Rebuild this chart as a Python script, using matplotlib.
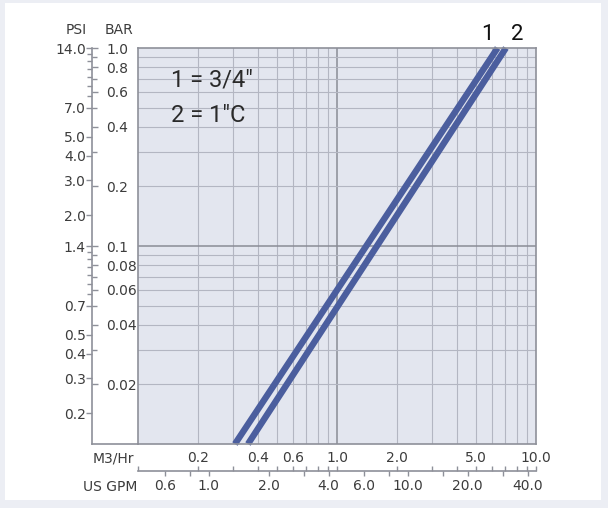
import numpy as np
import matplotlib
matplotlib.use("Agg")
import matplotlib.pyplot as plt
from matplotlib.lines import Line2D
from matplotlib.patches import Rectangle

# ---- data ----
m3hr_limits = [0.1, 10.0]
bar_limits = [0.01, 1.0]
line1_flow = [0.307, 6.41]
line1_bar = [0.01, 1.0]
line2_flow = [0.357, 7.06]
line2_bar = [0.01, 1.0]
bar_ticks = [1.0, 0.8, 0.6, 0.4, 0.2, 0.1, 0.08, 0.06, 0.04, 0.02]
bar_labels = ["1.0", "0.8", "0.6", "0.4", "0.2", "0.1", "0.08", "0.06", "0.04", "0.02"]
bar_minor = [0.9, 0.7, 0.5, 0.3, 0.09, 0.07, 0.05, 0.03]
psi_ticks = [14.0, 7.0, 5.0, 4.0, 3.0, 2.0, 1.4, 0.7, 0.5, 0.4, 0.3, 0.2]
psi_labels = ["14.0", "7.0", "5.0", "4.0", "3.0", "2.0", "1.4", "0.7", "0.5", "0.4", "0.3", "0.2"]
psi_minor = [13, 12, 11, 10, 9, 8, 1.3, 1.2, 1.1, 1.0, 0.9, 0.8]
PSI_PER_BAR = 14.0
m3_ticks = [0.2, 0.4, 0.6, 1.0, 2.0, 5.0, 10.0]
m3_labels = ["0.2", "0.4", "0.6", "1.0", "2.0", "5.0", "10.0"]
m3_minor = [0.1, 0.3, 0.5, 0.7, 0.8, 0.9, 3.0, 4.0, 6.0, 7.0, 8.0, 9.0]
gpm_ticks = [0.6, 1.0, 2.0, 4.0, 6.0, 10.0, 20.0, 40.0]
gpm_labels = ["0.6", "1.0", "2.0", "4.0", "6.0", "10.0", "20.0", "40.0"]
gpm_minor = [0.8, 3.0, 8.0, 15.0, 30.0]
GPM_PER_M3 = 4.403
series_labels = ["1", "2"]
legend_lines = ["1 = 3/4\u2033", "2 = 1\u2033C"]

W, H = 608, 508
fig = plt.figure(figsize=(W / 100, H / 100), dpi=100, facecolor="#eceef4")
fig.add_artist(Rectangle((5 / W, 1 - 500 / H), 596 / W, 497 / H, transform=fig.transFigure,
                         facecolor="white", edgecolor="none", zorder=0))

def fx(px):
    return px / W

def fy(py):
    return 1 - py / H

L, R, T, B = 138, 536, 48, 444
ax = fig.add_axes([fx(L), fy(B), (R - L) / W, (B - T) / H])
ax.set_facecolor("#e3e6ef")
ax.set_xscale("log")
ax.set_yscale("log")
ax.set_xlim(m3hr_limits)
ax.set_ylim(bar_limits)
ax.set_xticks([0.2, 0.3, 0.4, 0.5, 0.6, 0.7, 0.8, 0.9, 2, 3, 4, 5, 6, 7, 8, 9], minor=True)
ax.set_yticks([0.02, 0.03, 0.04, 0.05, 0.06, 0.07, 0.08, 0.09, 0.2, 0.3, 0.4, 0.5, 0.6, 0.7, 0.8, 0.9], minor=True)
ax.set_xticks([1.0])
ax.set_yticks([0.1])
ax.grid(True, which="minor", color="#b3b6c2", linewidth=0.8)
ax.grid(True, which="major", color="#8a8c96", linewidth=1.1)
ax.tick_params(which="both", length=0, labelbottom=False, labelleft=False)
for s in ax.spines.values():
    s.set_color("#8e9099")
    s.set_linewidth(1.2)
ax.set_axisbelow(True)

col = "#4b5e9e"
ax.plot(line1_flow, line1_bar, color=col, linewidth=4.6, solid_capstyle="butt", clip_on=False)
ax.plot(line2_flow, line2_bar, color=col, linewidth=4.6, solid_capstyle="butt", clip_on=False)

ax.text((487 - L) / (R - L), (B - 34) / (B - T), series_labels[0], transform=ax.transAxes,
        ha="center", va="center", fontsize=16, color="#111111", family=["Roboto", "DejaVu Sans"])
ax.text((517 - L) / (R - L), (B - 34) / (B - T), series_labels[1], transform=ax.transAxes,
        ha="center", va="center", fontsize=16, color="#111111", family=["Roboto", "DejaVu Sans"])
for i, t in enumerate(legend_lines):
    ax.text((171 - L) / (R - L), (B - (80 + 35 * i)) / (B - T), t, transform=ax.transAxes,
            ha="left", va="center", fontsize=17, color="#2a2a2a",
            family=["Roboto", "DejaVu Sans"])

# ---- left PSI / BAR axis ----
AX_X = 92
tick_col = "#8e9099"
lab_col = "#3c3c3c"
al = fig.add_axes([fx(AX_X), fy(B), 0.0001, (B - T) / H])
al.set_yscale("log")
al.set_ylim(bar_limits)
al.set_xticks([])
al.patch.set_visible(False)
ar = al.twinx()

for k in ["top", "bottom", "right"]:
    al.spines[k].set_visible(False)
al.spines["left"].set_color(tick_col)
al.spines["left"].set_linewidth(1.2)
al.yaxis.tick_left()
al.set_yticks([p / PSI_PER_BAR for p in psi_ticks])
al.set_yticklabels(psi_labels)
al.set_yticks([p / PSI_PER_BAR for p in psi_minor], minor=True)
al.yaxis.set_minor_formatter(plt.NullFormatter())
al.tick_params(axis="y", which="major", direction="out", length=4, width=1, color=tick_col,
               pad=0.5, labelsize=10, labelcolor=lab_col)
al.tick_params(axis="y", which="minor", direction="out", length=3.5, width=1, color=tick_col)

ar.set_yscale("log")
ar.set_ylim(bar_limits)
ar.patch.set_visible(False)
for k in ["top", "bottom", "left", "right"]:
    ar.spines[k].set_visible(False)
ar.yaxis.tick_right()
ar.set_yticks(bar_ticks)
ar.set_yticklabels(bar_labels)
ar.set_yticks(bar_minor, minor=True)
ar.yaxis.set_minor_formatter(plt.NullFormatter())
ar.tick_params(axis="y", which="major", direction="out", length=4, width=1, color=tick_col,
               pad=6, labelsize=10, labelcolor=lab_col)
ar.tick_params(axis="y", which="minor", direction="out", length=3.5, width=1, color=tick_col)

fig.text(fx(76), fy(30), "PSI", ha="center", va="center", fontsize=10, color=lab_col)
fig.text(fx(119), fy(30), "BAR", ha="center", va="center", fontsize=10, color=lab_col)
fig.add_artist(Line2D([fx(AX_X), fx(L)], [fy(B), fy(B)], transform=fig.transFigure,
                      color=tick_col, linewidth=1.2))

# ---- bottom M3/Hr / GPM axis ----
AY = 471
ab = fig.add_axes([fx(L), fy(AY), (R - L) / W, 0.0001])
ab.set_xscale("log")
ab.set_xlim(m3hr_limits)
ab.set_yticks([])
ab.patch.set_visible(False)
ag = ab.twiny()

for k in ["bottom", "left", "right"]:
    ab.spines[k].set_visible(False)
ab.spines["top"].set_color(tick_col)
ab.spines["top"].set_linewidth(1.2)
ab.xaxis.tick_top()
ab.set_xticks(m3_ticks)
ab.set_xticklabels(m3_labels)
ab.set_xticks(m3_minor, minor=True)
ab.xaxis.set_minor_formatter(plt.NullFormatter())
ab.tick_params(axis="x", which="major", direction="out", length=3.5, width=1, color=tick_col,
               pad=1, labelsize=10, labelcolor=lab_col, top=True, bottom=False,
               labeltop=True, labelbottom=False)
ab.tick_params(axis="x", which="minor", direction="out", length=3.5, width=1, color=tick_col,
               top=True, bottom=False)

ag.set_xscale("log")
ag.set_xlim([v * GPM_PER_M3 for v in m3hr_limits])
ag.patch.set_visible(False)
for k in ["top", "bottom", "left", "right"]:
    ag.spines[k].set_visible(False)
ag.xaxis.tick_bottom()
ag.set_xticks(gpm_ticks)
ag.set_xticklabels(gpm_labels)
ag.set_xticks(gpm_minor, minor=True)
ag.xaxis.set_minor_formatter(plt.NullFormatter())
ag.tick_params(axis="x", which="major", direction="out", length=3.5, width=1, color=tick_col,
               pad=2.5, labelsize=10, labelcolor=lab_col, top=False, bottom=True,
               labeltop=False, labelbottom=True)
ag.tick_params(axis="x", which="minor", direction="out", length=3.5, width=1, color=tick_col,
               top=False, bottom=True)

fig.text(fx(113), fy(458), "M3/Hr", ha="center", va="center", fontsize=10, color=lab_col)
fig.text(fx(110), fy(487), "US GPM", ha="center", va="center", fontsize=10, color=lab_col)

fig.savefig("out.png", dpi=100, facecolor=fig.get_facecolor())
